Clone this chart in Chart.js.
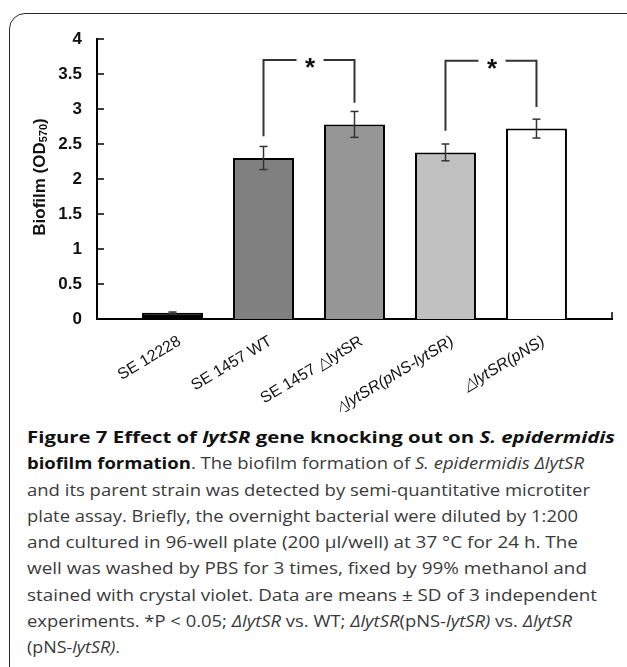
<!DOCTYPE html>
<html>
<head>
<meta charset="utf-8">
<script src="https://cdn.jsdelivr.net/npm/chart.js@4.4.1/dist/chart.umd.min.js"></script>
<style>
  html, body { margin: 0; padding: 0; background: #fff; }
  body { width: 627px; height: 667px; position: relative; overflow: hidden; }
  #frame { position: absolute; left: 9px; top: 13px; width: 660px; height: 720px;
    border: 1px solid #2a2a2a; border-radius: 16px; box-sizing: border-box; }
  #wrap { position: absolute; left: 0; top: 0; width: 627px; height: 412px; }
  #caption { position: absolute; left: 27px; top: 424px; font-family: "Open Sans", sans-serif;
    font-size: 15.5px; line-height: 26.25px; color: #3a3a3a; white-space: nowrap; }
  #caption div { height: 26.25px; }
  #caption span { display: inline-block; transform-origin: 0 50%; }
  #caption b { color: #111; }
</style>
</head>
<body>
<div id="frame"></div>
<div id="wrap"><canvas id="grafico"></canvas></div>
<div id="caption">
<div><span><b>Figure 7 Effect of <i>lytSR</i> gene knocking out on <i>S. epidermidis</i></b></span></div>
<div><span><b>biofilm formation</b>. The biofilm formation of <i>S. epidermidis ΔlytSR</i></span></div>
<div><span>and its parent strain was detected by semi-quantitative microtiter</span></div>
<div><span>plate assay. Briefly, the overnight bacterial were diluted by 1:200</span></div>
<div><span>and cultured in 96-well plate (200 μl/well) at 37 °C for 24 h. The</span></div>
<div><span>well was washed by PBS for 3 times, fixed by 99% methanol and</span></div>
<div><span>stained with crystal violet. Data are means ± SD of 3 independent</span></div>
<div><span>experiments. *P &lt; 0.05; <i>ΔlytSR</i> vs. WT; <i>ΔlytSR</i>(pNS-<i>lytSR)</i> vs. <i>ΔlytSR</i></span></div>
<div><span>(pNS-<i>lytSR)</i>.</span></div>
</div>
<script>
// dados
const cepas = ['SE 12228', 'SE 1457 WT', 'SE 1457 \u25B3lytSR', '\u25B3lytSR(pNS-lytSR)', '\u25B3lytSR(pNS)'];
const biofilme = [0.09, 2.30, 2.78, 2.38, 2.72];
const desvio = [0.01, 0.165, 0.185, 0.12, 0.135];
const coresBarras = ['#000000', '#808080', '#969696', '#c0c0c0', '#ffffff'];
const ticksY = [0, 0.5, 1, 1.5, 2, 2.5, 3, 3.5, 4];

// colchetes de significância: pares de barras, altura do topo, fim das pernas
const paresSig = [[1, 2], [3, 4]];
const topoSig = [3.70, 3.69];
const pernasSig = [[2.61, 3.09], [2.69, 3.03]];

// largura de cada linha da legenda na figura original
const largurasLegenda = [588, 557, 563, 551, 551, 560, 570, 545, 93];

const fonteArial = '"Liberation Sans", Arial, sans-serif';

function linha(ctx, x1, y1, x2, y2) {
  ctx.beginPath();
  ctx.moveTo(x1, y1);
  ctx.lineTo(x2, y2);
  ctx.stroke();
}

const extras = {
  id: 'extras',
  afterDatasetsDraw(chart) {
    const ctx = chart.ctx;
    const x = chart.scales.x, y = chart.scales.y;
    const area = chart.chartArea;
    ctx.save();

    // barras de erro
    ctx.strokeStyle = '#333';
    ctx.lineWidth = 1.5;
    biofilme.forEach((v, i) => {
      const px = x.getPixelForValue(i);
      const hi = y.getPixelForValue(v + desvio[i]);
      const lo = y.getPixelForValue(v - desvio[i]);
      linha(ctx, px, hi, px, lo);
      linha(ctx, px - 4, hi, px + 4, hi);
      linha(ctx, px - 4, lo, px + 4, lo);
    });

    // colchetes com asterisco
    ctx.strokeStyle = '#333';
    ctx.lineWidth = 2;
    paresSig.forEach((par, k) => {
      const xa = x.getPixelForValue(par[0]);
      const xb = x.getPixelForValue(par[1]);
      const yt = y.getPixelForValue(topoSig[k]);
      const meio = (xa + xb) / 2 + 1;
      const gap = 13.5;
      ctx.beginPath();
      ctx.moveTo(xa, y.getPixelForValue(pernasSig[k][0]));
      ctx.lineTo(xa, yt);
      ctx.lineTo(meio - gap, yt);
      ctx.stroke();
      ctx.beginPath();
      ctx.moveTo(meio + gap, yt);
      ctx.lineTo(xb, yt);
      ctx.lineTo(xb, y.getPixelForValue(pernasSig[k][1]));
      ctx.stroke();
      ctx.fillStyle = '#111';
      ctx.font = 'bold 26px ' + fonteArial;
      ctx.textAlign = 'center';
      ctx.textBaseline = 'alphabetic';
      ctx.fillText('*', meio, yt + 16);
    });

    // marcas do eixo y para dentro
    ctx.strokeStyle = '#000';
    ctx.lineWidth = 1.5;
    ticksY.forEach(t => {
      const py = y.getPixelForValue(t);
      linha(ctx, area.left, py, area.left + 7, py);
    });
    linha(ctx, area.right, area.bottom, area.right, area.bottom - 7);

    // título do eixo y com subscrito
    ctx.translate(45, 177);
    ctx.rotate(-Math.PI / 2);
    ctx.fillStyle = '#111';
    ctx.textBaseline = 'alphabetic';
    ctx.textAlign = 'left';
    const f1 = 'bold 17px ' + fonteArial, f2 = 'bold 11px ' + fonteArial;
    ctx.font = f1;
    const w1 = ctx.measureText('Biofilm (OD').width;
    const w3 = ctx.measureText(')').width;
    ctx.font = f2;
    const w2 = ctx.measureText('570').width;
    let cx = -(w1 + w2 + w3) / 2;
    ctx.font = f1;
    ctx.fillText('Biofilm (OD', cx, 0);
    cx += w1;
    ctx.font = f2;
    ctx.fillText('570', cx, 2);
    cx += w2;
    ctx.font = f1;
    ctx.fillText(')', cx, 0);
    ctx.restore();
  }
};

new Chart(document.getElementById('grafico'), {
  type: 'bar',
  data: {
    datasets: [{
      data: biofilme.map((v, i) => ({ x: i, y: v })),
      backgroundColor: coresBarras,
      borderColor: '#000',
      borderWidth: 2,
      barPercentage: 0.67,
      categoryPercentage: 1
    }]
  },
  options: {
    responsive: true,
    maintainAspectRatio: false,
    animation: false,
    layout: { padding: { left: 0, top: 39, right: 15, bottom: 0 } },
    plugins: { legend: { display: false }, tooltip: { enabled: false } },
    scales: {
      x: {
        type: 'linear',
        min: -0.83,
        max: 4.83,
        offset: false,
        grid: { display: false, drawTicks: false },
        border: { display: true, color: '#000', width: 2 },
        afterBuildTicks: s => { s.ticks = cepas.map((_, i) => ({ value: i })); },
        afterFit: s => { s.height = 93; },
        ticks: {
          autoSkip: false,
          minRotation: 31,
          maxRotation: 31,
          padding: 13,
          labelOffset: 7,
          color: '#111',
          font: ctx => ({ family: fonteArial, size: 16, style: ctx.index >= 3 ? 'italic' : 'normal' }),
          callback: v => cepas[v]
        }
      },
      y: {
        min: 0,
        max: 4,
        grid: { display: false, drawTicks: false },
        border: { display: true, color: '#000', width: 2 },
        afterBuildTicks: s => { s.ticks = ticksY.map(v => ({ value: v })); },
        afterFit: s => { s.width = 97; },
        ticks: {
          padding: 15,
          color: '#111',
          font: { family: fonteArial, size: 17, weight: 'bold' },
          callback: v => String(v)
        }
      }
    }
  },
  plugins: [extras]
});

// ajusta cada linha da legenda à largura original
document.querySelectorAll('#caption span').forEach((el, i) => {
  const w = el.getBoundingClientRect().width;
  el.style.transform = 'scaleX(' + (largurasLegenda[i] / w).toFixed(4) + ')';
});
</script>
</body>
</html>
